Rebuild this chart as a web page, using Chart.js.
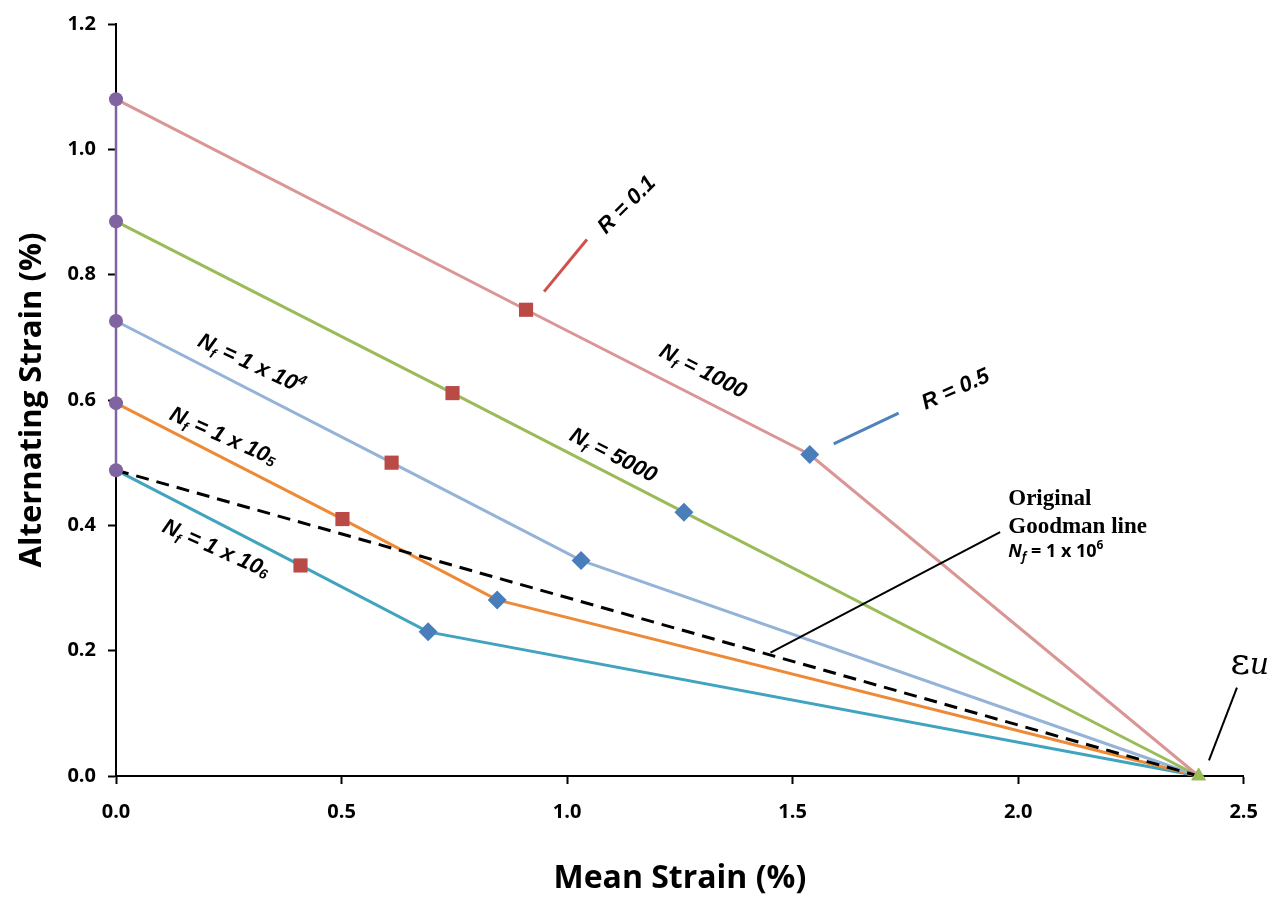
<!DOCTYPE html>
<html>
<head>
<meta charset="utf-8">
<script src="https://cdn.jsdelivr.net/npm/chart.js@4"></script>
<style>
  html, body { margin: 0; padding: 0; background: #fff; }
  canvas { display: block; }
</style>
</head>
<body>
<canvas id="grafico" width="1274" height="900" style="width:1274px;height:900px"></canvas>
<script>
// --- dados (deformação em %) ---
// uma linha de vida por índice: Nf = 1000, 5000, 1e4, 1e5, 1e6
const lifeNames = ["1000", "5000", "1 x 10", "1 x 10", "1 x 10"];
const lifeExp = ["", "", "4", "5", "6"];

// R = -1 (deformação média zero)
const rm1Alt = [1.08, 0.885, 0.726, 0.595, 0.488];

// R = 0.1 (quadrados)
const r01Mean = [0.909, 0.746, 0.611, 0.502, 0.409];
const r01Alt = [0.744, 0.611, 0.500, 0.410, 0.336];

// R = 0.5 (losangos)
const r05Mean = [1.538, 1.259, 1.031, 0.845, 0.692];
const r05Alt = [0.513, 0.421, 0.344, 0.281, 0.230];

// deformação última
const ultMean = [2.4];
const ultAlt = [0];

// linha de Goodman original
const goodmanMean = [0, 2.4];
const goodmanAlt = [0.488, 0];

const xTicks = [0, 0.5, 1.0, 1.5, 2.0, 2.5];
const yTicks = [0, 0.2, 0.4, 0.6, 0.8, 1.0, 1.2];

const lifeColors = ["#D99694", "#9BBB59", "#95B3D7", "#EE8A36", "#40A4BE"];

// monta as curvas: (0, R=-1) -> R=0.1 -> R=0.5 -> deformação última
const lifeDatasets = lifeNames.map((n, i) => ({
  label: "Nf=" + n + lifeExp[i],
  data: [
    { x: 0, y: rm1Alt[i] },
    { x: r01Mean[i], y: r01Alt[i] },
    { x: r05Mean[i], y: r05Alt[i] },
    { x: ultMean[0], y: ultAlt[0] }
  ],
  borderColor: lifeColors[i],
  borderWidth: 3,
  pointRadius: 0,
  showLine: true,
  tension: 0,
  order: 5
}));

const sansBI = "italic bold 22px 'Liberation Sans', Arial, sans-serif";
const sansBIsmall = "italic bold 14px 'Liberation Sans', Arial, sans-serif";

function drawRich(ctx, parts, cx, cy, deg, align) {
  ctx.save();
  ctx.translate(cx, cy);
  ctx.rotate(deg * Math.PI / 180);
  let total = 0;
  parts.forEach(p => { ctx.font = p.font; p.w = ctx.measureText(p.t).width; total += p.w; });
  let x = align === "left" ? 0 : -total / 2;
  ctx.textBaseline = "alphabetic";
  ctx.fillStyle = "#000";
  parts.forEach(p => {
    ctx.font = p.font;
    ctx.fillText(p.t, x, (p.dy || 0) + (align === "left" ? 0 : 8));
    x += p.w;
  });
  ctx.restore();
}

function leader(ctx, sx, sy, ex, ey, color, w) {
  ctx.save();
  ctx.strokeStyle = color;
  ctx.lineWidth = w;
  ctx.beginPath();
  ctx.moveTo(sx, sy);
  ctx.lineTo(ex, ey);
  ctx.stroke();
  ctx.restore();
}

function nfParts(name, exp, dyExp) {
  const parts = [
    { t: "N", font: sansBI },
    { t: "f", font: sansBIsmall, dy: 5 },
    { t: " = " + name, font: sansBI }
  ];
  if (exp) parts.push({ t: exp, font: sansBIsmall, dy: dyExp });
  return parts;
}

const anotacoes = {
  id: "anotacoes",
  afterDatasetsDraw(chart) {
    const { ctx, scales: { x, y } } = chart;
    const px = v => x.getPixelForValue(v);
    const py = v => y.getPixelForValue(v);

    // R = 0.1 / R = 0.5
    leader(ctx, px(0.949), py(0.773), px(1.044), py(0.856), "#D0504D", 3);
    drawRich(ctx, [{ t: "R = 0.1", font: sansBI }], px(1.130), py(0.913), -45);
    leader(ctx, px(1.591), py(0.530), px(1.735), py(0.579), "#4F81BD", 3);
    drawRich(ctx, [{ t: "R = 0.5", font: sansBI }], px(1.860), py(0.619), -24);

    // rótulos das curvas de vida
    drawRich(ctx, nfParts(lifeNames[0], lifeExp[0]), px(1.303), py(0.648), 27);
    drawRich(ctx, nfParts(lifeNames[1], lifeExp[1]), px(1.104), py(0.514), 27);
    drawRich(ctx, nfParts(lifeNames[2], lifeExp[2], -9), px(0.301), py(0.660), 25);
    drawRich(ctx, nfParts(lifeNames[3], lifeExp[3], 2), px(0.239), py(0.544), 24);
    drawRich(ctx, nfParts(lifeNames[4], lifeExp[4], 2), px(0.223), py(0.365), 24);

    // Goodman original
    leader(ctx, px(1.451), py(0.197), px(1.960), py(0.389), "#000", 2);
    const serifB = "bold 23px 'Liberation Serif', 'Times New Roman', serif";
    drawRich(ctx, [{ t: "Original", font: serifB }], px(1.978), py(0.433), 0, "left");
    drawRich(ctx, [{ t: "Goodman line", font: serifB }], px(1.978), py(0.387), 0, "left");
    drawRich(ctx, [
      { t: "N", font: "italic bold 18px 'Open Sans', sans-serif" },
      { t: "f", font: "italic bold 12px 'Open Sans', sans-serif", dy: 4 },
      { t: " = 1 x 10", font: "bold 18px 'Open Sans', sans-serif" },
      { t: "6", font: "bold 12px 'Open Sans', sans-serif", dy: -8 }
    ], px(1.978), py(0.349), 0, "left");

    // deformação última
    leader(ctx, px(2.423), py(0.025), px(2.485), py(0.141), "#000", 2);
    drawRich(ctx, [
      { t: "\u03B5", font: "38px 'DejaVu Serif', serif" },
      { t: "u", font: "italic 30px 'DejaVu Serif', serif" }
    ], px(2.470), py(0.163), 0, "left");
  }
};

const tickFont = { family: "'Open Sans', sans-serif", size: 20, weight: "bold" };

new Chart(document.getElementById("grafico").getContext("2d"), {
  type: "line",
  data: {
    datasets: [
      {
        label: "R = 0.1",
        data: r01Mean.map((v, i) => ({ x: v, y: r01Alt[i] })),
        showLine: false,
        pointStyle: "rect",
        pointRadius: 10,
        pointBackgroundColor: "#BA4A46",
        pointBorderColor: "#BA4A46",
        pointBorderWidth: 0,
        order: 0
      },
      {
        label: "R = 0.5",
        data: r05Mean.map((v, i) => ({ x: v, y: r05Alt[i] })),
        showLine: false,
        pointStyle: "rectRot",
        pointRadius: 9.5,
        pointBackgroundColor: "#4A7EBB",
        pointBorderColor: "#4A7EBB",
        pointBorderWidth: 0,
        order: 0
      },
      {
        label: "eps u",
        data: ultMean.map((v, i) => ({ x: v, y: ultAlt[i] })),
        showLine: false,
        pointStyle: "triangle",
        pointRadius: 8,
        pointBackgroundColor: "#9BBB59",
        pointBorderColor: "#9BBB59",
        order: 0
      },
      {
        label: "R = -1",
        data: rm1Alt.map(v => ({ x: 0, y: v })),
        showLine: true,
        borderColor: "#8064A2",
        borderWidth: 2.5,
        pointStyle: "circle",
        pointRadius: 7,
        pointBackgroundColor: "#8064A2",
        pointBorderColor: "#8064A2",
        pointBorderWidth: 0,
        order: 1
      },
      {
        label: "Goodman",
        data: goodmanMean.map((v, i) => ({ x: v, y: goodmanAlt[i] })),
        showLine: true,
        borderColor: "#000",
        borderWidth: 3,
        borderDash: [13, 8],
        pointStyle: "line",
        pointRadius: [7, 0],
        pointBorderColor: "#B5CF8E",
        pointBorderWidth: 3,
        tension: 0,
        order: 2
      },
      ...lifeDatasets
    ]
  },
  options: {
    responsive: false,
    animation: false,
    parsing: false,
    clip: false,
    layout: { padding: { top: 17, right: 28, left: 0, bottom: 0 } },
    scales: {
      x: {
        type: "linear",
        min: 0, max: 2.5,
        afterBuildTicks: s => { s.ticks = xTicks.map(v => ({ value: v })); },
        afterFit: s => { s.height = 124; },
        ticks: { font: tickFont, color: "#000", padding: 16, maxRotation: 0, callback: v => v.toFixed(1) },
        grid: { display: true, drawOnChartArea: false, drawTicks: true, tickLength: 8, tickColor: "#000", tickWidth: 2 },
        border: { display: true, color: "#000", width: 2 },
        title: {
          display: true, text: "Mean Strain (%)", color: "#000",
          font: { family: "'Open Sans', sans-serif", size: 32, weight: "bold" },
          padding: { top: 0, bottom: 2 }
        }
      },
      y: {
        type: "linear",
        min: 0, max: 1.2,
        afterBuildTicks: s => { s.ticks = yTicks.map(v => ({ value: v })); },
        afterFit: s => { s.width = 116; },
        ticks: { font: tickFont, color: "#000", padding: 12, callback: v => v.toFixed(1) },
        grid: { display: true, drawOnChartArea: false, drawTicks: true, tickLength: 8, tickColor: "#000", tickWidth: 2 },
        border: { display: true, color: "#000", width: 2 },
        title: {
          display: true, text: "Alternating Strain (%)", color: "#000",
          font: { family: "'Open Sans', sans-serif", size: 31, weight: "bold" },
          padding: { top: 14, bottom: 0 }
        }
      }
    },
    plugins: { legend: { display: false }, tooltip: { enabled: false } }
  },
  plugins: [anotacoes]
});
</script>
</body>
</html>
